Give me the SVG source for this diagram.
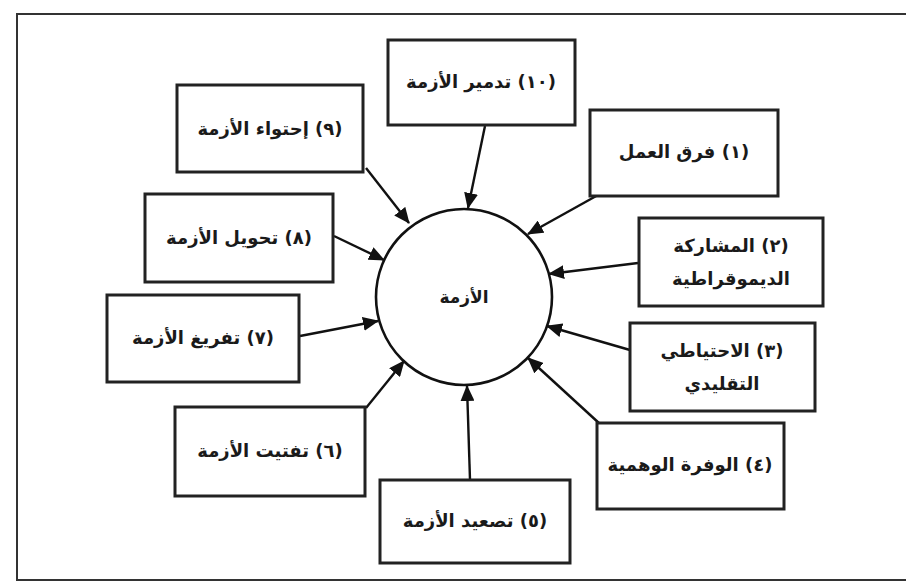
<svg xmlns="http://www.w3.org/2000/svg" width="906" height="586" viewBox="0 0 906 586">
<style>
.box{fill:#fff;stroke:#222;stroke-width:3}
.lbl{font-family:"DejaVu Sans",sans-serif;font-weight:bold;font-size:18px;fill:#1a1a1a;text-anchor:middle;direction:rtl;unicode-bidi:embed}
.con{stroke:#111;stroke-width:2.4;fill:none;marker-end:url(#ah)}
</style>
<defs>
<marker id="ah" markerUnits="userSpaceOnUse" markerWidth="16" markerHeight="14" viewBox="0 0 16 14" refX="15" refY="7" orient="auto">
<path d="M0,0 L16,7 L0,14 Z" fill="#111"/>
</marker>
</defs>
<rect width="906" height="586" fill="#fff"/>
<path d="M906,14 H17 V580 H906" fill="none" stroke="#333" stroke-width="2"/>

<g id="center">
<circle cx="464" cy="297" r="88" fill="#fff" stroke="#111" stroke-width="2.6"/>
<text class="lbl" x="464" y="303" style="font-size:17px">الأزمة</text>
</g>

<g id="connectors">
<line class="con" x1="485" y1="126" x2="468" y2="208"/>
<line class="con" x1="366" y1="168" x2="409" y2="223"/>
<line class="con" x1="598" y1="195" x2="528" y2="234"/>
<line class="con" x1="334" y1="236" x2="384" y2="260"/>
<line class="con" x1="638" y1="263" x2="549" y2="274"/>
<line class="con" x1="300" y1="336" x2="378" y2="321"/>
<line class="con" x1="630" y1="350" x2="547" y2="326"/>
<line class="con" x1="600" y1="424" x2="528" y2="358"/>
<line class="con" x1="470" y1="480" x2="467" y2="386"/>
<line class="con" x1="366" y1="408" x2="404" y2="361"/>
</g>

<g id="n10"><rect class="box" x="388" y="40" width="187" height="85"/><text class="lbl" x="481" y="88">(١٠) تدمير الأزمة</text></g>
<g id="n9"><rect class="box" x="177" y="85" width="186" height="87"/><text class="lbl" x="270" y="135">(٩) إحتواء الأزمة</text></g>
<g id="n1"><rect class="box" x="590" y="110" width="188" height="86"/><text class="lbl" x="684" y="158">(١) فرق العمل</text></g>
<g id="n8"><rect class="box" x="145" y="194" width="188" height="88"/><text class="lbl" x="239" y="244">(٨) تحويل الأزمة</text></g>
<g id="n2"><rect class="box" x="639" y="218" width="184" height="88"/><text class="lbl" x="731" y="252">(٢) المشاركة</text><text class="lbl" x="731" y="285">الديموقراطية</text></g>
<g id="n7"><rect class="box" x="107" y="295" width="192" height="87"/><text class="lbl" x="203" y="344">(٧) تفريغ الأزمة</text></g>
<g id="n3"><rect class="box" x="630" y="323" width="185" height="88"/><text class="lbl" x="722" y="357">(٣) الاحتياطي</text><text class="lbl" x="722" y="390">التقليدي</text></g>
<g id="n6"><rect class="box" x="175" y="407" width="190" height="89"/><text class="lbl" x="270" y="457">(٦) تفتيت الأزمة</text></g>
<g id="n4"><rect class="box" x="597" y="423" width="187" height="86"/><text class="lbl" x="690" y="471">(٤) الوفرة الوهمية</text></g>
<g id="n5"><rect class="box" x="380" y="480" width="190" height="83"/><text class="lbl" x="475" y="527">(٥) تصعيد الأزمة</text></g>
</svg>
